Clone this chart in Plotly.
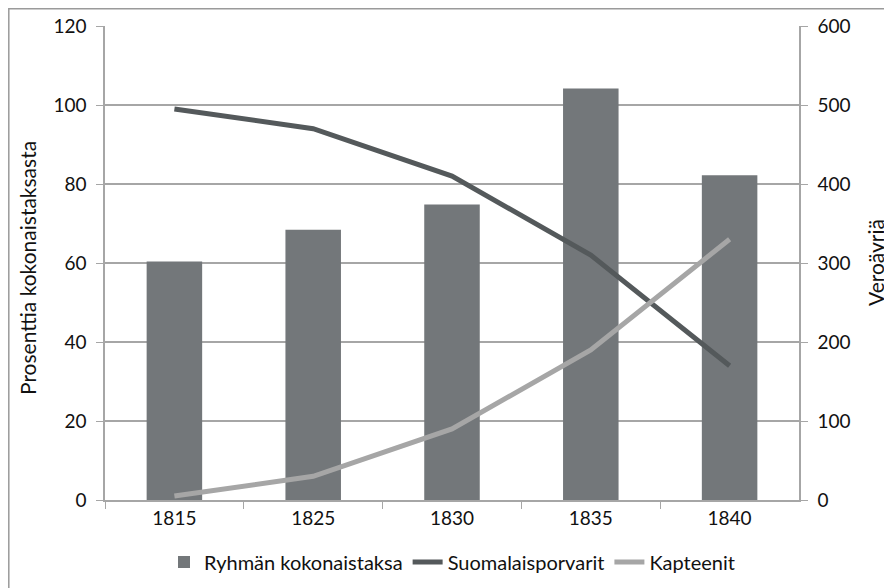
import plotly.graph_objects as go

years = ["1815", "1825", "1830", "1835", "1840"]
ryhman_kokonaistaksa = [302, 342, 374, 521, 411]
suomalaisporvarit = [99, 94, 82, 62, 34]
kapteenit = [1, 6, 18, 38, 66]

W, H = 892, 588
OFF = 8  # browser body margin
L, R, T, B = 105 - OFF, 799 - OFF, 26 - OFF, 500 - OFF

font = "Lato, 'Open Sans', sans-serif"
grid = "#a6a6a6"

fig = go.Figure()
fig.add_trace(go.Bar(x=years, y=ryhman_kokonaistaksa, name="Ryhmän kokonaistaksa",
                     marker=dict(color="#73777a", line=dict(width=0)), yaxis="y"))
fig.add_trace(go.Scatter(x=years, y=suomalaisporvarit, name="Suomalaisporvarit", mode="lines",
                         line=dict(color="#54595b", width=5), yaxis="y2"))
fig.add_trace(go.Scatter(x=years, y=kapteenit, name="Kapteenit", mode="lines",
                         line=dict(color="#a6a6a6", width=5), yaxis="y2"))

fig.update_layout(
    width=W, height=H,
    margin=dict(l=0, r=0, t=0, b=0),
    paper_bgcolor="white", plot_bgcolor="white",
    font=dict(family=font, size=19, color="#111111"),
    bargap=0.6,
    showlegend=True,
    legend=dict(orientation="h", x=(452 - OFF) / W, xanchor="center", y=1 - (562 - OFF) / H,
                yanchor="middle", font=dict(size=20), traceorder="normal", itemwidth=30),
    xaxis=dict(domain=[L / W, R / W], type="category", showline=True, linecolor=grid,
               linewidth=1.5, ticks="outside", tickson="boundaries", ticklen=7,
               tickcolor=grid, showgrid=False, automargin=False, tickfont=dict(size=19)),
    yaxis=dict(domain=[1 - B / H, 1 - T / H], side="right", range=[0, 600], dtick=100,
               showline=True, linecolor=grid, linewidth=1.5, ticks="outside", ticklen=7,
               tickcolor=grid, showgrid=True, gridcolor=grid, gridwidth=1.5,
               zeroline=False, automargin=False, ticklabelstandoff=6, tickfont=dict(size=19)),
    yaxis2=dict(overlaying="y", side="left", range=[0, 120], dtick=20, showline=True,
                linecolor=grid, linewidth=1.5, ticks="outside", ticklen=7, tickcolor=grid,
                showgrid=False, zeroline=False, automargin=False, ticklabelstandoff=6,
                tickfont=dict(size=19)),
    annotations=[
        dict(text="Prosenttia kokonaistaksasta", xref="paper", yref="paper", x=(27 - OFF) / W,
             y=1 - (268 - OFF) / H, xanchor="center", yanchor="middle", textangle=-90,
             showarrow=False, font=dict(size=21)),
        dict(text="Veroäyriä", xref="paper", yref="paper", x=(875 - OFF) / W,
             y=1 - (263 - OFF) / H, xanchor="center", yanchor="middle", textangle=-90,
             showarrow=False, font=dict(size=21)),
    ],
    shapes=[dict(type="rect", xref="paper", yref="paper", x0=0.8 / W, y0=-0.05,
                 x1=1.05, y1=1 - 0.8 / H, line=dict(color="#9a9a9a", width=1.5))],
)

fig.write_html("out.html")
